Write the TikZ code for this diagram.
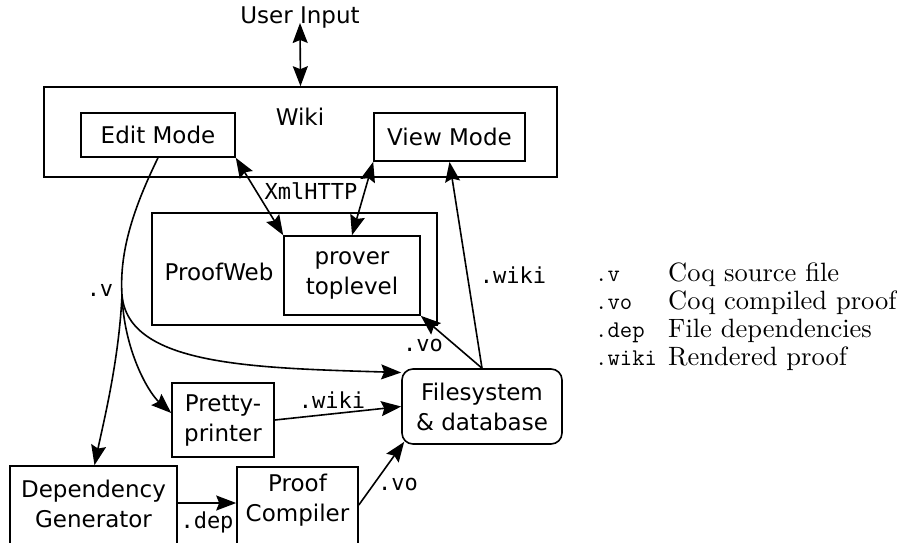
\documentclass[tikz,border=0pt]{standalone}
\usepackage{fontspec}
\newfontfamily\dvs{DejaVu Sans}
\newfontfamily\dvm{DejaVu Sans Mono}
\newfontfamily\lmten{lmroman10-regular.otf}
\usetikzlibrary{arrows.meta,calc}
\begin{document}
\begin{tikzpicture}[x=1pt,y=-1pt,
  box/.style={draw,line width=1.6pt,inner sep=0pt,align=center,
    font=\dvs\fontsize{23}{30}\selectfont},
  lbl/.style={font=\dvs\fontsize{23}{30}\selectfont,inner sep=0pt,align=center},
  ml/.style={font=\dvm\fontsize{22}{26}\selectfont,inner sep=0pt},
  arr/.style={line width=1.6pt,-{Stealth[length=20pt,width=15pt,inset=3pt]}},
  darr/.style={line width=1.6pt,{Stealth[length=20pt,width=15pt,inset=3pt]}-{Stealth[length=20pt,width=15pt,inset=3pt]}},
  legm/.style={font=\ttfamily\fontsize{24}{28}\selectfont,inner sep=0pt,anchor=base west},
  legt/.style={font=\lmten\fontsize{26.5}{28}\selectfont,inner sep=0pt,anchor=base west}]
\useasboundingbox (0,0) rectangle (897,542);
\clip (0,0) rectangle (897,542);

% boxes
\node[box,minimum width=513pt,minimum height=90pt] (wiki) at (300.5,132) {};
\node[lbl] (wikit) at (300,117) {Wiki};
\node[box,minimum width=154pt,minimum height=44pt] (edit) at (158,135) {Edit Mode};
\node[box,minimum width=151pt,minimum height=48pt] (view) at (449.5,137) {View Mode};
\node[box,minimum width=285pt,minimum height=112pt] (pw) at (294.5,269) {};
\node[lbl] (pwt) at (219,272) {ProofWeb};
\node[box,minimum width=136pt,minimum height=79pt] (prover) at (352,275.5) {prover\\toplevel};
\node[box,rounded corners=11pt,minimum width=160pt,minimum height=75pt] (fs) at (482,406.5) {Filesystem\\\& database};
\node[box,minimum width=102pt,minimum height=74pt] (pretty) at (223,420) {Pretty-\\printer};
\node[box,minimum width=167pt,minimum height=104pt] (dep) at (93.5,518) {};
\node[lbl] (dept) at (93.5,504) {Dependency\\Generator};
\node[box,minimum width=121pt,minimum height=103pt] (proof) at (297.5,518.5) {};
\node[lbl] (prooft) at (297.5,500) {Proof\\Compiler};
\node[lbl] (user) at (300,18) {User Input};

% connectors
\draw[darr] (user.south) ++(0,-6) coordinate (u1) (u1) -- (wiki.north);
\draw[darr] (edit.south east) -- (prover.north west);
\draw[darr] (view.south west) -- (prover.north);
\draw[arr] (fs.north) -- (view.south);
\draw[arr] (fs.north) -- (prover.south east);
\coordinate (branch) at (122,295);
\draw[line width=1.6pt] (edit.south) .. controls (135,205) and (119,250) .. (branch);
\draw[arr] (branch) .. controls (128,365) and (250,368) .. ([yshift=34pt]fs.west);
\draw[arr] (branch) .. controls (124,350) and (148,392) .. ([yshift=7pt]pretty.west);
\draw[arr] (branch) .. controls (119,360) and (104,420) .. ([xshift=1pt]dep.north);
\draw[arr] (pretty.east) -- (fs.west);
\draw[arr] ([yshift=15pt]dep.east) -- ([yshift=15pt]dep.east -| proof.west);
\draw[arr] ([yshift=13.5pt]proof.east) -- ([xshift=3pt,yshift=3pt]fs.south west);

% connector labels
\node[ml] (lv) at (100,290) {.v};
\node[ml] (lx) at (311,191) {XmlHTTP};
\node[ml] (lw1) at (513,275) {.wiki};
\node[ml] (lvo1) at (423,345) {.vo};
\node[ml] (lw2) at (332,400) {.wiki};
\node[ml] (ld) at (207,522) {.dep};
\node[ml] (lvo2) at (398,484) {.vo};

% legend
\node[legm] (k1) at (595,281) {.v};
\node[legt] (t1) at (668,281) {Coq source file};
\node[legm] (k2) at (595,309) {.vo};
\node[legt] (t2) at (668,309) {Coq compiled proof};
\node[legm] (k3) at (595,337) {.dep};
\node[legt] (t3) at (668,337) {File dependencies};
\node[legm] (k4) at (595,365) {.wiki};
\node[legt] (t4) at (668,365) {Rendered proof};
\end{tikzpicture}
\end{document}
